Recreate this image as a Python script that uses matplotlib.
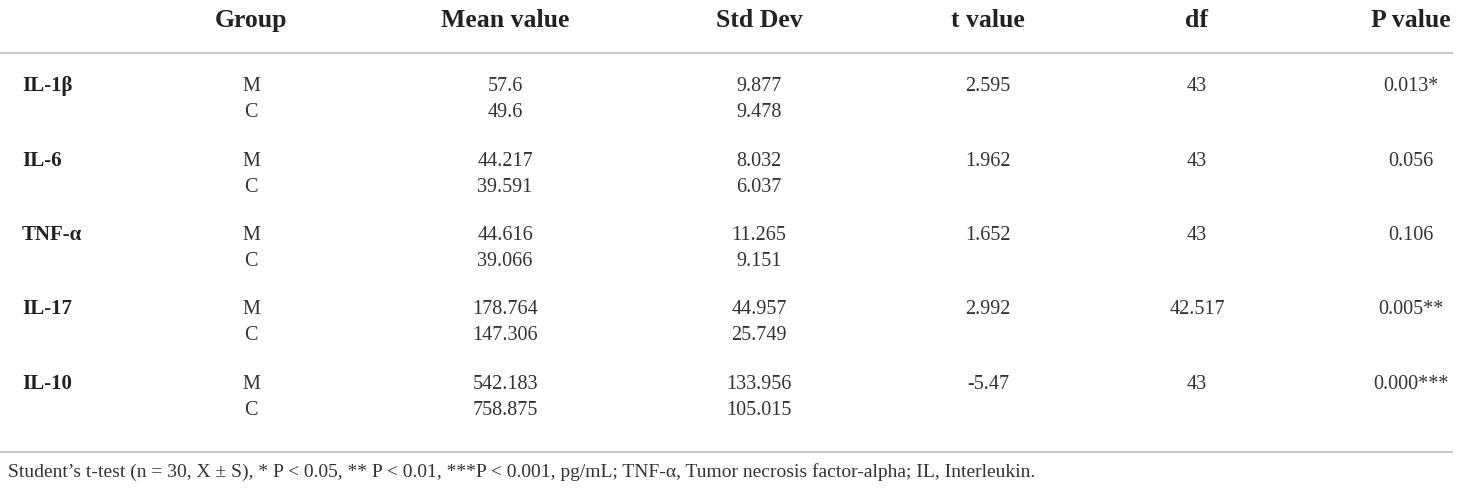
import matplotlib.pyplot as plt

plt.rcParams['font.family'] = ['Liberation Serif', 'DejaVu Serif']

# table contents
headers = ['Group', 'Mean value', 'Std Dev', 't value', 'df', 'P value']
markers = ['IL-1β', 'IL-6', 'TNF-α', 'IL-17', 'IL-10']
groups = ['M', 'C']
mean_m = ['57.6', '44.217', '44.616', '178.764', '542.183']
mean_c = ['49.6', '39.591', '39.066', '147.306', '758.875']
sd_m = ['9.877', '8.032', '11.265', '44.957', '133.956']
sd_c = ['9.478', '6.037', '9.151', '25.749', '105.015']
t_vals = ['2.595', '1.962', '1.652', '2.992', '-5.47']
df_vals = ['43', '43', '43', '42.517', '43']
p_vals = ['0.013*', '0.056', '0.106', '0.005**', '0.000***']
footnote = ("Student\u2019s t-test (n = 30, X \u00b1 S), * P < 0.05, ** P < 0.01, ***P < 0.001, "
            "pg/mL; TNF-\u03b1, Tumor necrosis factor-alpha; IL, Interleukin.")

fig = plt.figure(figsize=(14.6, 4.92), dpi=100)
ax = fig.add_axes([0, 0, 1, 1])
ax.set_xlim(0, 1460)
ax.set_ylim(492, 0)
ax.axis('off')

col_x = [251, 505, 759, 988, 1197, 1411]
header_base = 27
row_base0 = 91
block = 74.5
sub = 26
body = 14.5
dark = '#222222'
grey = '#333333'

for x, h in zip(col_x, headers):
    ax.text(x, header_base, h, ha='center', va='baseline', fontsize=18.5,
            fontweight='bold', color=dark)

ax.plot([0, 1452], [53, 53], color='#c8c8c8', lw=1.5)
ax.plot([0, 1452], [452, 452], color='#c8c8c8', lw=1.5)

for i, name in enumerate(markers):
    y1 = row_base0 + i * block
    y2 = y1 + sub
    ax.text(22, y1, name, ha='left', va='baseline', fontsize=15, fontweight='bold', color=dark)
    ax.text(col_x[0], y1, groups[0], ha='center', va='baseline', fontsize=body, color=grey)
    ax.text(col_x[0], y2, groups[1], ha='center', va='baseline', fontsize=body, color=grey)
    ax.text(col_x[1], y1, mean_m[i], ha='center', va='baseline', fontsize=body, color=grey)
    ax.text(col_x[1], y2, mean_c[i], ha='center', va='baseline', fontsize=body, color=grey)
    ax.text(col_x[2], y1, sd_m[i], ha='center', va='baseline', fontsize=body, color=grey)
    ax.text(col_x[2], y2, sd_c[i], ha='center', va='baseline', fontsize=body, color=grey)
    ax.text(col_x[3], y1, t_vals[i], ha='center', va='baseline', fontsize=body, color=grey)
    ax.text(col_x[4], y1, df_vals[i], ha='center', va='baseline', fontsize=body, color=grey)
    ax.text(col_x[5], y1, p_vals[i], ha='center', va='baseline', fontsize=body, color=grey)

ax.text(8, 477, footnote, ha='left', va='baseline', fontsize=14, color=grey)

fig.savefig('out.png', dpi=100)
